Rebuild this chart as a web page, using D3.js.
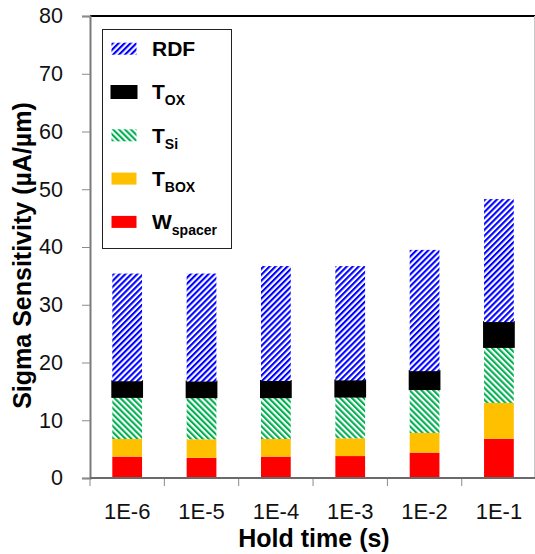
<!DOCTYPE html>
<html><head><meta charset="utf-8">
<script src="https://cdn.jsdelivr.net/npm/d3@7"></script>
<style>
html,body{margin:0;padding:0;background:#fff;}
svg{display:block;}
text{font-family:"Liberation Sans",Arial,sans-serif;}
</style></head>
<body>
<svg id="chart" width="535" height="554"></svg>
<script>
const categories = ["1E-6","1E-5","1E-4","1E-3","1E-2","1E-1"];
const wSpacer = [3.7, 3.5, 3.7, 3.8, 4.4, 6.8];
const tBox    = [3.05, 3.2, 3.05, 3.07, 3.4, 6.2];
const tSi     = [7.3, 7.3, 7.25, 7.23, 7.6, 9.7];
const tOx     = [2.7, 2.7, 2.8, 2.8, 3.1, 4.3];
const rdf     = [18.65, 18.7, 19.9, 19.8, 21.0, 21.3];
const yTicks  = [0,10,20,30,40,50,60,70,80];
const seriesKeys = ["W","BOX","Si","OX","RDF"];
const seriesData = {W:wSpacer, BOX:tBox, Si:tSi, OX:tOx, RDF:rdf};
const legendItems = [
  {key:"RDF", main:"RDF", sub:""},
  {key:"OX", main:"T", sub:"OX"},
  {key:"Si", main:"T", sub:"Si"},
  {key:"BOX", main:"T", sub:"BOX"},
  {key:"W", main:"W", sub:"spacer"}
];

const svg = d3.select("#chart");
const pLeft = 90, pTop = 16, pBottom = 478, pRight = 536.1;

// patterns
const defs = svg.append("defs");
function hatch(id, color, angle){
  const p = defs.append("pattern").attr("id", id)
    .attr("patternUnits","userSpaceOnUse").attr("width",4.2).attr("height",4.2)
    .attr("patternTransform",`rotate(${angle})`);
  p.append("rect").attr("width",4.2).attr("height",4.2).attr("fill","#fff");
  p.append("rect").attr("width",2.1).attr("height",4.2).attr("fill",color);
}
hatch("hatchBlue","#0000FF",45);
hatch("hatchGreen","#00B050",-45);

const fills = {W:"#FF0000", BOX:"#FFC000", Si:"url(#hatchGreen)", OX:"#000000", RDF:"url(#hatchBlue)"};

const x = d3.scaleBand().domain(categories).range([pLeft,pRight]).paddingInner(0.6).paddingOuter(0.3);
const y = d3.scaleLinear().domain([0,80]).range([pBottom,pTop]);

const table = categories.map((c,i)=>{
  const o = {cat:c};
  seriesKeys.forEach(k=>o[k]=seriesData[k][i]);
  return o;
});
const stacked = d3.stack().keys(seriesKeys)(table);

// plot frame: top black and right gray
svg.append("line").attr("x1",pLeft).attr("x2",535).attr("y1",pTop).attr("y2",pTop)
  .attr("stroke","#000").attr("stroke-width",2);
svg.append("line").attr("x1",534.5).attr("x2",534.5).attr("y1",pTop).attr("y2",pBottom)
  .attr("stroke","#c8c8c8").attr("stroke-width",1);

// bars
stacked.forEach(s=>{
  svg.append("g").selectAll("rect").data(s).join("rect")
    .attr("x", d=>x(d.data.cat))
    .attr("width", x.bandwidth())
    .attr("y", d=>y(d[1]))
    .attr("height", d=>y(d[0])-y(d[1]))
    .attr("fill", fills[s.key])
    .attr("stroke", s.key==="OX" ? "#000" : "none")
    .attr("stroke-width", s.key==="OX" ? 2 : 0);
});

// y axis
const yAxis = svg.append("g").attr("transform",`translate(${pLeft},0)`)
  .call(d3.axisLeft(y).tickValues(yTicks).tickSize(8).tickPadding(19));
yAxis.select(".domain").attr("stroke","#7a7a7a").attr("stroke-width",2);
yAxis.selectAll(".tick line").attr("stroke","#8a8a8a").attr("stroke-width",1);
yAxis.selectAll(".tick text").attr("font-size",21.5).attr("fill","#111")
  .attr("font-family","'Liberation Sans',Arial,sans-serif");

// x axis
const xAxis = svg.append("g").attr("transform",`translate(0,${pBottom})`)
  .call(d3.axisBottom(x).tickSize(0).tickPadding(25));
xAxis.select(".domain").attr("stroke","#6a6a6a").attr("stroke-width",2).attr("d",`M${pLeft},0H535`);
xAxis.selectAll(".tick text").attr("font-size",22).attr("fill","#111")
  .attr("font-family","'Liberation Sans',Arial,sans-serif");
const gap = x.step()-x.bandwidth();
const bounds = categories.map(c=>x(c)-gap/2);
xAxis.selectAll(".bound").data(bounds).join("line").attr("class","bound")
  .attr("x1",d=>d).attr("x2",d=>d).attr("y1",1).attr("y2",8)
  .attr("stroke","#8a8a8a").attr("stroke-width",1);

// axis titles
svg.append("text").attr("transform","translate(31,255.5) rotate(-90)")
  .attr("text-anchor","middle").attr("font-size",25).attr("font-weight","bold")
  .text("Sigma Sensitivity (µA/µm)");
svg.append("text").attr("x",314).attr("y",547)
  .attr("text-anchor","middle").attr("font-size",25).attr("font-weight","bold")
  .text("Hold time (s)");

// legend
const lg = svg.append("g");
lg.append("rect").attr("x",102.5).attr("y",29.5).attr("width",129).attr("height",219)
  .attr("fill","#fff").attr("stroke","#222").attr("stroke-width",1);
legendItems.forEach((it,i)=>{
  const cy = 48.7 + i*43.3;
  lg.append("rect").attr("x",111.5).attr("y",cy-6).attr("width",25).attr("height",12)
    .attr("fill",fills[it.key])
    .attr("stroke", it.key==="OX" ? "#000" : "none").attr("stroke-width", it.key==="OX"?2:0);
  const t = lg.append("text").attr("x",152).attr("y",cy+7.3)
    .attr("font-size",21).attr("font-weight","bold").attr("fill","#000");
  t.append("tspan").text(it.main);
  if(it.sub){
    t.append("tspan").attr("font-size",14).attr("dy",6).text(it.sub);
  }
});
</script>
</body></html>
